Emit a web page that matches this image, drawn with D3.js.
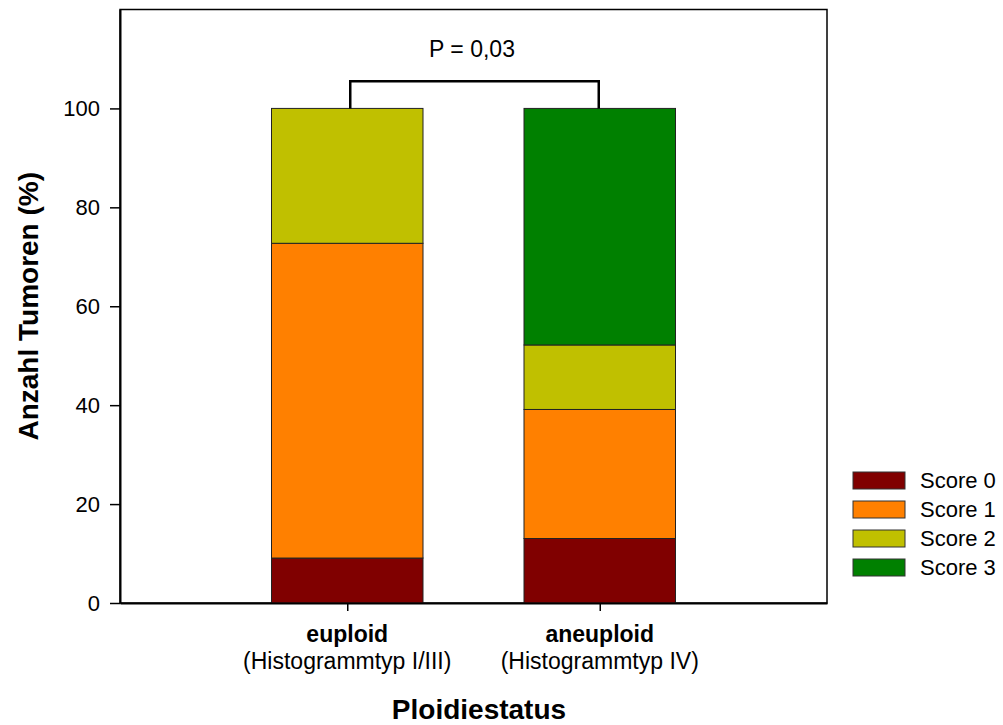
<!DOCTYPE html>
<html>
<head>
<meta charset="utf-8">
<script src="https://cdn.jsdelivr.net/npm/d3@7"></script>
<style>
  html, body { margin: 0; padding: 0; background: #fff; }
  svg { display: block; font-family: "Liberation Sans", Arial, sans-serif; }
</style>
</head>
<body>
<svg id="chart" width="1003" height="725"></svg>
<script>
// Tumour score distribution (%) by ploidy status
const categories = ["euploid", "aneuploid"];
const categoryNotes = ["(Histogrammtyp I/III)", "(Histogrammtyp IV)"];
const seriesNames = ["Score 0", "Score 1", "Score 2", "Score 3"];
const score0 = [9.09, 13.04];
const score1 = [63.64, 26.09];
const score2 = [27.27, 13.04];
const score3 = [0, 47.83];
const yTicks = [0, 20, 40, 60, 80, 100];
const pLabel = "P = 0,03";
const bracketLevel = 105.5;

const colors = ["#800000", "#FF8000", "#C0C000", "#008000"];
const series = [score0, score1, score2, score3];

const svg = d3.select("#chart");
const plotLeft = 120, plotRight = 827, plotTop = 9.5, plotBottom = 603;

const x = d3.scaleLinear().domain([0.1, 2.9]).range([plotLeft, plotRight]);
const y = d3.scaleLinear().domain([0, 120]).range([plotBottom, plotTop]);
const barW = x(0.6) - x(0);

// Stack the series for each category
const rows = categories.map((c, i) => {
  const r = { cat: c, idx: i + 1 };
  seriesNames.forEach((s, k) => r[s] = series[k][i]);
  return r;
});
const stacked = d3.stack().keys(seriesNames)(rows);

// Plot frame
svg.append("rect")
  .attr("x", plotLeft).attr("y", plotTop)
  .attr("width", plotRight - plotLeft).attr("height", plotBottom - plotTop)
  .attr("fill", "none").attr("stroke", "#000").attr("stroke-width", 1.5);

// Bars
stacked.forEach((layer, k) => {
  svg.append("g").selectAll("rect")
    .data(layer.filter(d => d[1] - d[0] > 0))
    .join("rect")
    .attr("x", d => x(d.data.idx) - barW / 2)
    .attr("width", barW)
    .attr("y", d => y(d[1]))
    .attr("height", d => y(d[0]) - y(d[1]))
    .attr("fill", colors[k])
    .attr("stroke", "#222")
    .attr("stroke-width", 1);
});

// Y axis
const yAxis = svg.append("g")
  .attr("transform", `translate(${plotLeft},0)`)
  .call(d3.axisLeft(y).tickValues(yTicks).tickSize(10).tickPadding(10).tickSizeOuter(0));
yAxis.select(".domain").attr("stroke-width", 2);
yAxis.selectAll(".tick line").attr("stroke-width", 1.5);
yAxis.selectAll(".tick text").attr("font-size", 22).attr("fill", "#000")
  .attr("font-family", "Liberation Sans, Arial, sans-serif");

// X axis
const xAxis = svg.append("g")
  .attr("transform", `translate(0,${plotBottom})`)
  .call(d3.axisBottom(x).tickValues([1, 2]).tickSize(8).tickFormat("").tickSizeOuter(0));
xAxis.select(".domain").attr("stroke-width", 2);
xAxis.selectAll(".tick line").attr("stroke-width", 1.5);

// Category labels
categories.forEach((c, i) => {
  const cx = x(i + 1);
  svg.append("text").attr("x", cx).attr("y", 642)
    .attr("text-anchor", "middle").attr("font-size", 23).attr("font-weight", "bold")
    .text(c);
  svg.append("text").attr("x", cx).attr("y", 669)
    .attr("text-anchor", "middle").attr("font-size", 23)
    .text(categoryNotes[i]);
});

// Axis titles
svg.append("text")
  .attr("x", 479).attr("y", 719)
  .attr("text-anchor", "middle").attr("font-size", 28).attr("font-weight", "bold")
  .text("Ploidiestatus");
svg.append("text")
  .attr("transform", `translate(38,${(plotTop + plotBottom) / 2}) rotate(-90)`)
  .attr("text-anchor", "middle").attr("font-size", 28).attr("font-weight", "bold")
  .text("Anzahl Tumoren (%)");

// Significance bracket
const bx1 = x(1) + 3, bx2 = x(2) - 1;
svg.append("path")
  .attr("d", `M${bx1},${y(100)} V${y(bracketLevel)} H${bx2} V${y(100)}`)
  .attr("fill", "none").attr("stroke", "#000").attr("stroke-width", 2.5);
svg.append("text")
  .attr("x", 472).attr("y", 57)
  .attr("text-anchor", "middle").attr("font-size", 23)
  .text(pLabel);

// Legend
const legend = svg.append("g");
seriesNames.forEach((s, k) => {
  const ly = 472 + k * 29;
  legend.append("rect").attr("x", 853).attr("y", ly)
    .attr("width", 52).attr("height", 17)
    .attr("fill", colors[k]).attr("stroke", "#333").attr("stroke-width", 1);
  legend.append("text").attr("x", 920).attr("y", ly + 16)
    .attr("font-size", 22).text(s);
});
</script>
</body>
</html>
